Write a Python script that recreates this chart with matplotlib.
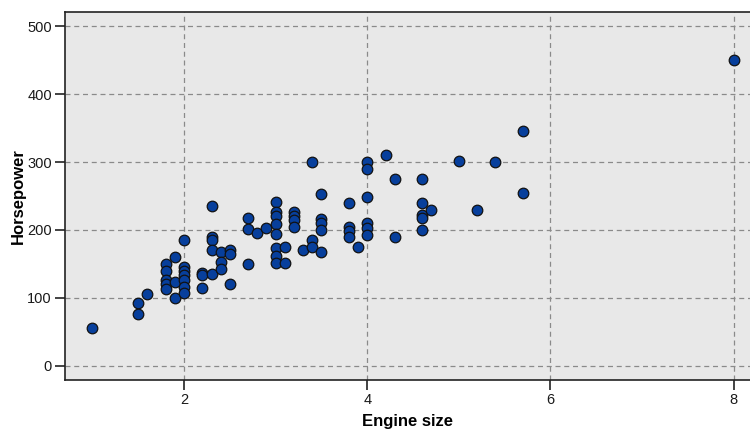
import matplotlib
matplotlib.use("Agg")
import matplotlib.pyplot as plt

engine_size = [1.0, 1.5, 1.5, 1.6, 1.9,
               1.8, 1.8, 1.8, 1.8, 1.8, 1.9, 1.9,
               2.0, 2.0, 2.0, 2.0, 2.0, 2.0, 2.0,
               2.2, 2.2, 2.2,
               2.3, 2.3, 2.3, 2.3, 2.3,
               2.4, 2.4, 2.4,
               2.5, 2.5, 2.5,
               2.7, 2.7, 2.7, 2.8, 2.9,
               3.0, 3.0, 3.0, 3.0, 3.0, 3.0, 3.0, 3.0,
               3.1, 3.1,
               3.2, 3.2, 3.2, 3.2,
               3.3, 3.4, 3.4, 3.4,
               3.5, 3.5, 3.5, 3.5, 3.5,
               3.8, 3.8, 3.8, 3.8, 3.9,
               4.0, 4.0, 4.0, 4.0, 4.0, 4.0,
               4.2, 4.3, 4.3,
               4.6, 4.6, 4.6, 4.6, 4.6, 4.7,
               5.0, 5.2, 5.4, 5.7, 5.7, 8.0]
horsepower = [55, 92, 76, 106, 160,
              150, 140, 127, 120, 113, 124, 100,
              185, 146, 140, 134, 127, 116, 107,
              137, 134, 115,
              236, 190, 185, 171, 135,
              168, 153, 143,
              170, 164, 120,
              217, 201, 150, 195, 203,
              241, 227, 220, 209, 194, 174, 161, 151,
              175, 151,
              227, 221, 215, 204,
              170, 300, 185, 175,
              253, 216, 210, 200, 167,
              240, 205, 198, 190, 175,
              300, 290, 249, 210, 203, 193,
              310, 275, 190,
              275, 240, 222, 217, 200, 230,
              302, 230, 300, 345, 255, 450]

x_ticks = [2, 4, 6, 8]
y_ticks = [0, 100, 200, 300, 400, 500]

fig = plt.figure(figsize=(7.5, 4.3), dpi=100)
ax = fig.add_axes([65/750, 50/430, 685/750, 368/430])
ax.set_facecolor('#e8e8e8')

ax.scatter(engine_size, horsepower, s=58, c='#073f9c', edgecolors='#111111',
           linewidths=0.9, zorder=3)

ax.set_xlim(0.70, 8.18)
ax.set_ylim(-21, 521)
ax.set_xticks(x_ticks)
ax.set_yticks(y_ticks)
ax.grid(True, color='#8a8a8a', linestyle=(0, (4, 3)), linewidth=0.9, zorder=1)

for side in ['left', 'bottom', 'top']:
    ax.spines[side].set_color('#222222')
    ax.spines[side].set_linewidth(1.2)
ax.spines['right'].set_visible(False)

ax.tick_params(axis='both', direction='out', length=7, width=1.2, color='#222222',
               labelsize=10.5, labelcolor='#1a1a1a', pad=2.5)
for lbl in ax.get_xticklabels() + ax.get_yticklabels():
    lbl.set_family('Liberation Sans')

ax.set_xlabel('Engine size', fontsize=12, fontweight='bold', family='Liberation Sans',
              labelpad=5)
ax.set_ylabel('Horsepower', fontsize=12, fontweight='bold', family='Liberation Sans',
              labelpad=1)

fig.savefig('out.png', dpi=100)
